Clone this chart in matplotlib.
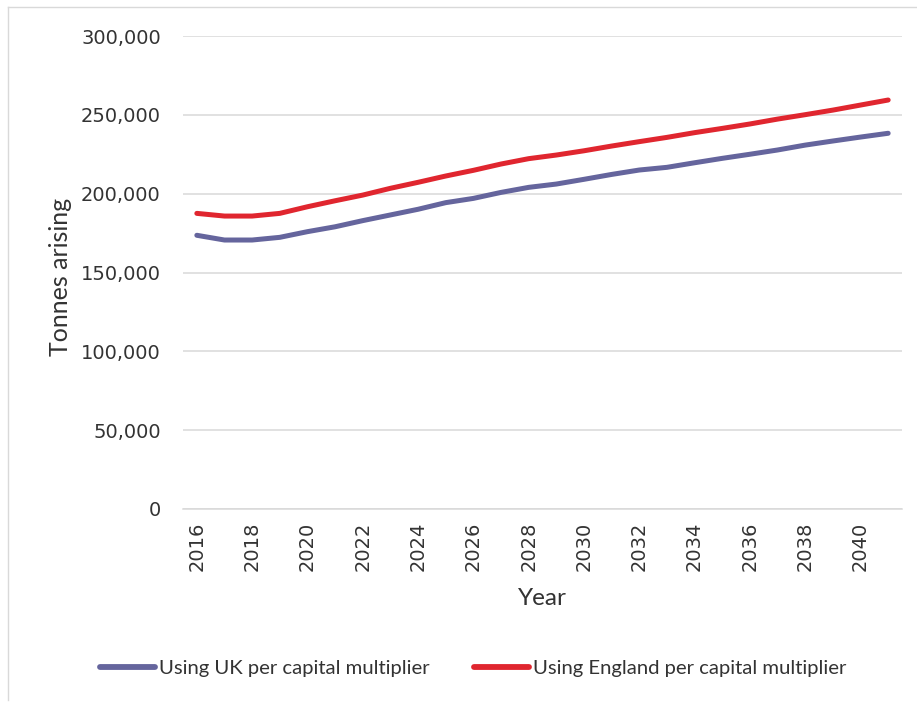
import matplotlib
matplotlib.use("Agg")
import matplotlib.pyplot as plt
from matplotlib.lines import Line2D
from matplotlib.ticker import FuncFormatter, MultipleLocator

years = list(range(2016, 2042))
uk_values = [173600, 170600, 170600, 172300, 175900, 179000, 182900, 186500,
             190100, 194300, 197000, 200800, 204000, 206100, 209100, 212200,
             215000, 216700, 219600, 222400, 225000, 227700, 230800, 233400,
             235900, 238300]
england_values = [187500, 185800, 185800, 187500, 191700, 195500, 199100, 203400,
                  207200, 211200, 214800, 218800, 222200, 224500, 227200, 230200,
                  233000, 235700, 238700, 241400, 244200, 247300, 250100, 253000,
                  256200, 259400]
series_names = ["Using UK per capital multiplier", "Using England per capital multiplier"]
tick_years = list(range(2016, 2041, 2))

fig = plt.figure(figsize=(9.17, 7.02), dpi=100)
ax = fig.add_axes([183/917, 1-509/702, (902-183)/917, (509-36)/702])

x = list(range(len(years)))
ax.plot(x, uk_values, color="#65659D", lw=3.6, solid_capstyle="round", label=series_names[0])
ax.plot(x, england_values, color="#E0262F", lw=3.6, solid_capstyle="round", label=series_names[1])

ax.set_xlim(-0.5, len(years) - 0.5)
ax.set_ylim(0, 300000)
ax.yaxis.set_major_locator(MultipleLocator(50000))
ax.yaxis.set_major_formatter(FuncFormatter(lambda v, p: f"{int(v):,}"))
ax.set_xticks([years.index(y) for y in tick_years])
ax.set_xticklabels([str(y) for y in tick_years], rotation=90)
ax.grid(axis="y", color="#D9D9D9", lw=1.1)
ax.set_axisbelow(True)
for s in ["top", "right", "left"]:
    ax.spines[s].set_visible(False)
ax.spines["bottom"].set_color("#D9D9D9")
ax.spines["bottom"].set_linewidth(1.1)
ax.tick_params(axis="both", length=0, labelsize=14, colors="#333333")
ax.tick_params(axis="y", pad=16)
ax.tick_params(axis="x", pad=9)

ax.set_ylabel("Tonnes arising", fontsize=18, family="Lato", color="#333333", labelpad=6)
ax.yaxis.label.set_y(0.49)
ax.set_xlabel("Year", fontsize=17.5, family="Lato", color="#333333", labelpad=12)

leg = fig.legend(loc="center", bbox_to_anchor=(473/917, 1-668/702), ncol=2, frameon=False,
                 prop={"family": "Lato", "size": 14.6}, handlelength=2.7, handletextpad=0.2,
                 columnspacing=2.2)
for t in leg.get_texts():
    t.set_color("#333333")
for h in leg.legend_handles:
    h.set_linewidth(4.2)

fig.add_artist(Line2D([8/917, 1], [1-7/702, 1-7/702], color="#D9D9D9", lw=1, transform=fig.transFigure))
fig.add_artist(Line2D([8/917, 8/917], [1-7/702, 1-700/702], color="#D9D9D9", lw=1, transform=fig.transFigure))

fig.savefig("out.png", dpi=100)
